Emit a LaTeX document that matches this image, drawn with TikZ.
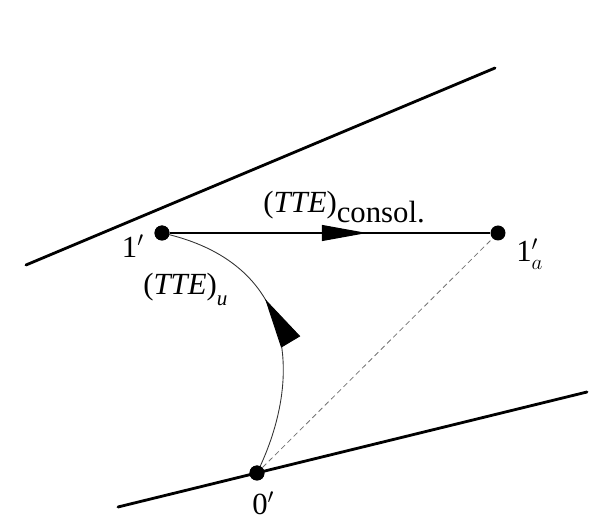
\documentclass[tikz,border=0pt]{standalone}
\usepackage{fontspec}
\setmainfont{Liberation Serif}
\usetikzlibrary{arrows.meta,decorations.markings}
\tikzset{
  dot/.style={circle, fill=black, inner sep=0pt, minimum size=0.3cm},
  boundary/.style={line width=1.6pt, line cap=round},
  thinline/.style={line width=0.6pt},
  lab/.style={inner sep=0pt, font=\fontsize{17.5}{19}\selectfont},
  markarrow/.style 2 args={postaction=decorate, decoration={markings,
    mark=at position #1 with {\arrow{Triangle[#2]}}}}
}
\begin{document}
\begin{tikzpicture}[x=0.02cm, y=0.02cm]
      \useasboundingbox (0,0) rectangle (596,521);
      \coordinate (A1) at (26,256);
      \coordinate (A2) at (495,453);
      \coordinate (B1) at (118,14);
      \coordinate (B2) at (587,129);
      \draw[boundary] (A1) -- (A2);
      \draw[boundary] (B1) -- (B2);
      \node[dot] (p1) at (162,288) {};
      \node[dot] (p1a) at (498,288) {};
      \node[dot] (p0) at (257,48) {};
      \draw[thinline, markarrow={0.615}{length=0.9cm, width=0.32cm}] (p1) -- (p1a);
      \draw[line width=0.5pt, black!80, markarrow={0.59}{length=1cm, width=0.44cm, black}]
        (p0.center) .. controls (305,146) and (295,259) .. (p1.center);
      \draw[line width=0.45pt, black!55, dash pattern=on 3pt off 2pt] (p0) -- (p1a);
      \node[dot] at (p1) {};
      \node[dot] at (p0) {};
      \node[lab] (l1) at (133,275) {1$'$};
      \node[lab, anchor=base west] (l1a) at (516,259) {1$'_a$};
      \node[lab, anchor=base west] (l0) at (252,6) {0$'$};
      \node[lab, anchor=base west] (lc) at (263,308) {(\textit{TTE})\raisebox{-0.2cm}{consol.}};
      \node[lab, anchor=base west] (lu) at (143,226) {(\textit{TTE})\raisebox{-0.22cm}{\fontsize{12}{13}\selectfont\textit{u}}};
   \end{tikzpicture}
\end{document}
